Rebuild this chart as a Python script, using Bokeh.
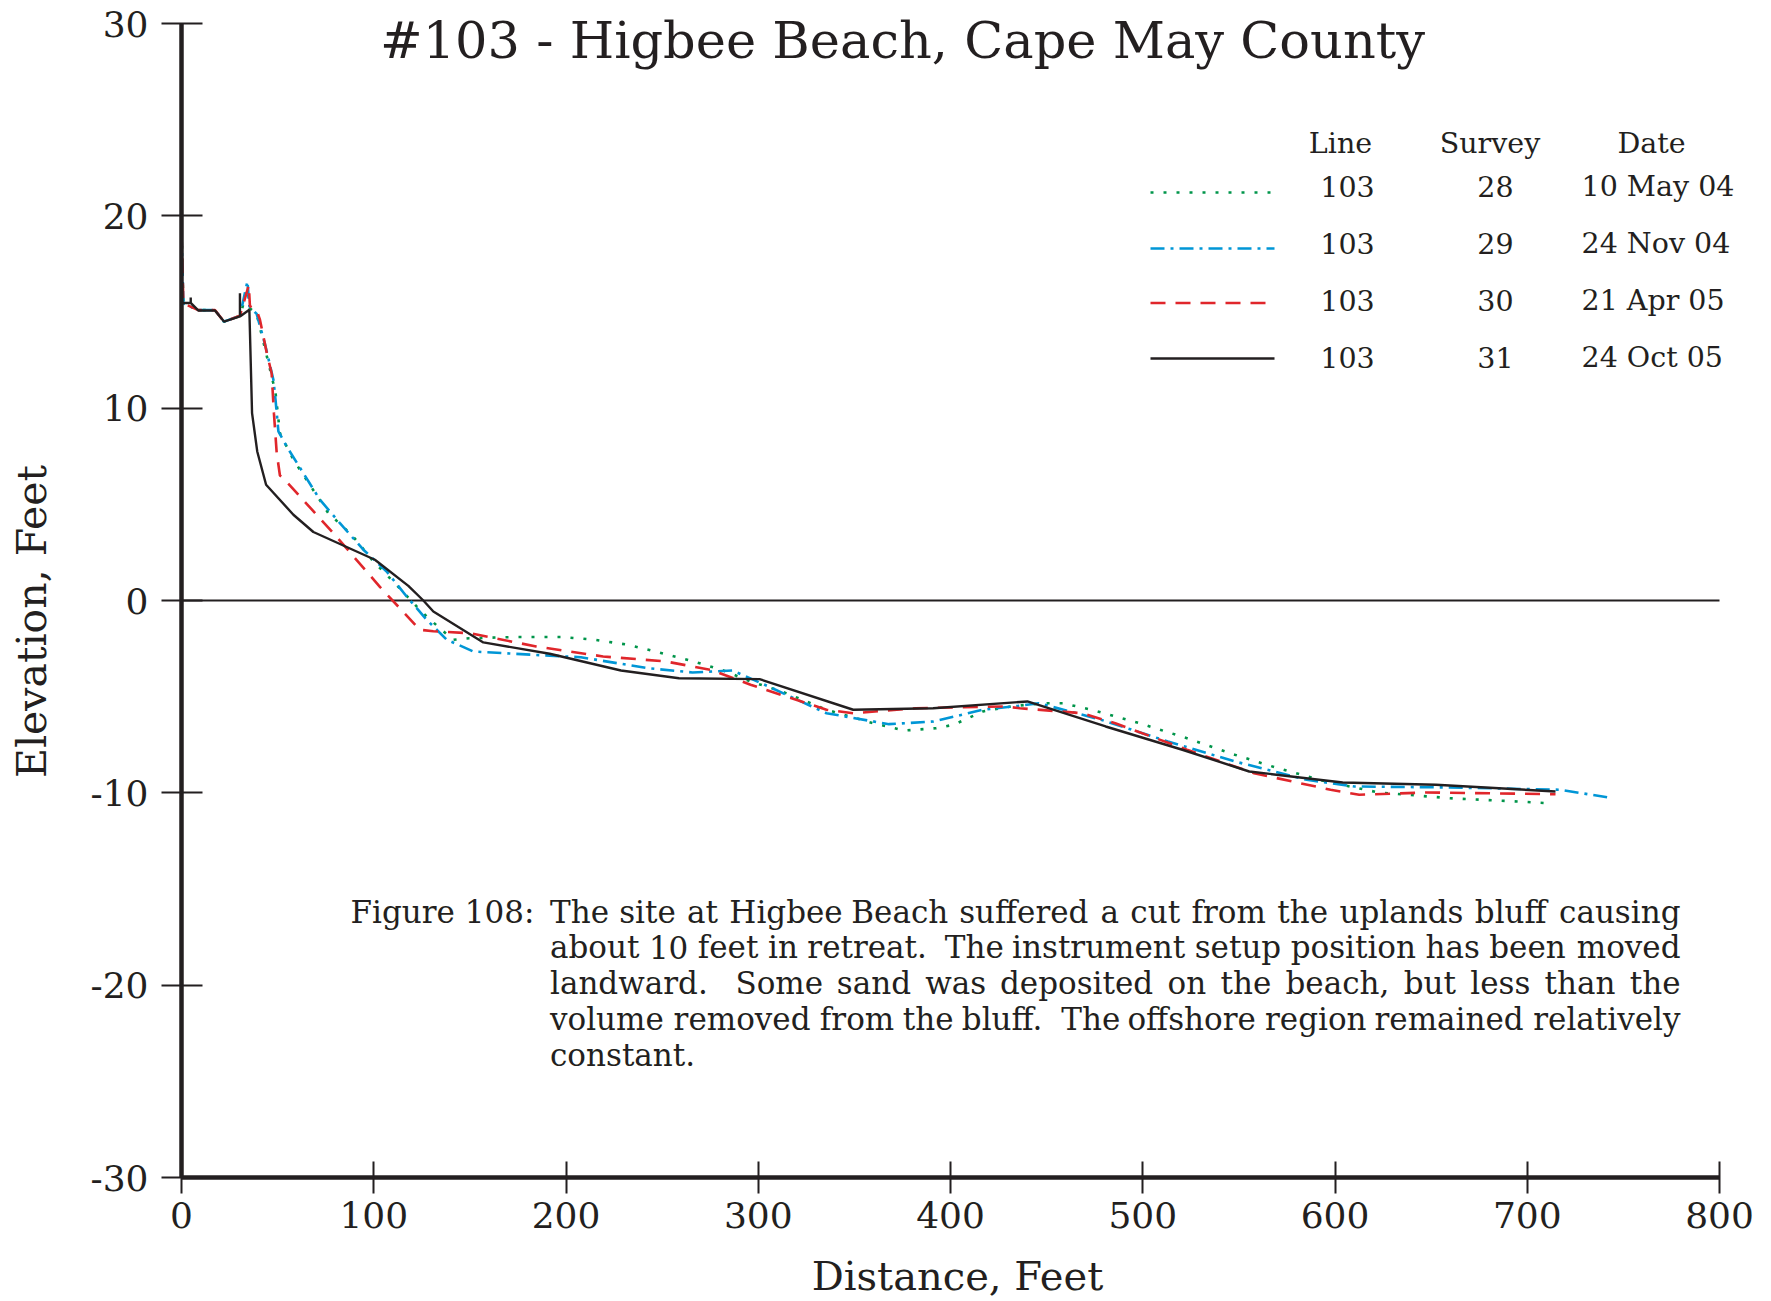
import math
from bokeh.plotting import figure
from bokeh.models import Range1d, FixedTicker, Label
from bokeh.embed import file_html
from bokeh.resources import INLINE

# ---------------- data (distance ft, elevation ft) ----------------
UP_D = [0, 1, 8.7, 17.4, 22.1, 30.4]
UP_V = [19.1, 15.45, 15.1, 15.1, 14.5, 14.8]

D28 = UP_D + [34.5, 35.5, 39.1, 47.5, 48.9, 51.2, 58.2, 76.4, 88.5, 99.8, 111, 122.3,
              127.5, 135.3, 141.4, 149.7, 172.9, 198.4, 214.7, 232.2, 248.4, 264.7,
              280.9, 296, 312.3, 335.5, 359.8, 376.1, 392.4, 401.7, 416.8, 433, 450.4,
              458.4, 473.3, 498.2, 523, 547.9, 570.3, 595.2, 622.6, 659.9, 694.8, 711]
V28 = UP_V + [16.2, 15.2, 14.9, 11.4, 10.8, 8.7, 7.32, 4.54, 3.42, 2.03, 0.9, -0.31,
              -0.83, -1.52, -2.04, -1.96, -1.9, -1.9, -2.04, -2.3, -2.7, -3.12,
              -3.6, -4.21, -4.73, -5.68, -6.38, -6.76, -6.64, -6.46, -5.77, -5.48, -5.34,
              -5.34, -5.68, -6.38, -7.16, -8.02, -8.72, -9.41, -9.98, -10.28, -10.45, -10.54]

D29 = UP_D + [34.3, 35.3, 39.1, 43.5, 47.8, 48.9, 50.4, 54.7, 63.4, 72, 82.4, 94.6,
              106.7, 117.1, 127.5, 138, 151.8, 172.9, 207.7, 242.6, 265.8, 286.7, 305.3,
              335.5, 368, 391.2, 416.8, 435.3, 445.9, 478.3, 513.1, 547.9, 585.3, 610.2,
              659.9, 717.2, 744.6]
V29 = UP_V + [16.6, 15.3, 14.9, 13.3, 11.48, 10.44, 8.79, 8.01, 6.62, 5.24, 4.02, 2.64,
              1.51, 0.21, -1.0, -2.04, -2.65, -2.77, -2.95, -3.52, -3.74, -3.64, -4.47,
              -5.86, -6.43, -6.29, -5.68, -5.48, -5.34, -6.2, -7.33, -8.37, -9.32, -9.67,
              -9.72, -9.84, -10.28]

D30 = UP_D + [35, 35.6, 39.1, 40.8, 44.3, 46.9, 48.1, 49.5, 51.2, 53, 79, 103.3, 124,
              131, 150, 184.5, 219.3, 251.9, 275.1, 296, 335.5, 349.4, 381.9, 428.3, 436,
              468.3, 485.7, 523, 557.9, 597.7, 612.6, 647.5, 714.7]
V30 = UP_V + [16.4, 15.3, 15.1, 14.6, 12.9, 11.8, 9.7, 7.7, 6.5, 6.36, 3.5, 0.7, -1.52,
              -1.6, -1.7, -2.39, -2.91, -3.17, -3.6, -4.38, -5.68, -5.86, -5.6, -5.51, -5.6,
              -5.86, -6.38, -7.76, -8.98, -9.84, -10.1, -9.98, -10.07]

D31 = [0, 4.8, 4.8, 4.8, 8.7, 17.4, 22.1, 30.4, 30.4, 30.4, 35.3, 36.7, 39.4, 44, 58.2,
       68.6, 100.6, 118, 125.8, 131, 157, 191.5, 228.6, 258.8, 300.7, 349.4, 391, 440,
       480.7, 520.6, 555.4, 604, 652.5, 714.7]
V31 = [15.47, 15.47, 15.75, 15.47, 15.08, 15.08, 14.5, 14.77, 15.98, 14.77, 15.12, 9.74,
       7.75, 6.02, 4.46, 3.56, 2.12, 0.76, 0.0, -0.57, -2.18, -2.77, -3.64, -4.04, -4.09,
       -5.68, -5.6, -5.25, -6.55, -7.76, -8.89, -9.46, -9.58, -9.93]

LINES = ["103", "103", "103", "103"]
SURVEYS = ["28", "29", "30", "31"]
DATES = ["10 May 04", "24 Nov 04", "21 Apr 05", "24 Oct 05"]

X_TICKS = [0, 100, 200, 300, 400, 500, 600, 700, 800]
X_TICK_LABELS = ["0", "100", "200", "300", "400", "500", "600", "700", "800"]
Y_TICKS = [-30, -20, -10, 0, 10, 20, 30]
Y_TICK_LABELS = ["-30", "-20", "-10", "0", "10", "20", "30"]

TITLE = "#103 - Higbee Beach, Cape May County"
X_LABEL = "Distance, Feet"
Y_LABEL = "Elevation, Feet"
CAP_HEAD = "Figure 108:"
CAP_LINES = [
    "The site at Higbee Beach suffered a cut from the uplands bluff causing",
    "about 10 feet in retreat.  The instrument setup position has been moved",
    "landward.  Some sand was deposited on the beach, but less than the",
    "volume removed from the bluff.  The offshore region remained relatively",
    "constant.",
]

# ---------------- styling / layout ----------------
INK = "#231f20"
FONT = "DejaVu Serif"
STYLES = [
    dict(color="#00954a", dash="3 10", width=2.6),
    dict(color="#0096d6", dash="14 6 3 6", width=2.6),
    dict(color="#e0262b", dash="15 10", width=2.6),
    dict(color=INK, dash="solid", width=2.4),
]

W, H = 1766, 1301
AX_L, AX_T, AX_W, AX_H = 181, 23, 1538, 1154      # pixel box of the 0..800 x -30..30 axes
XB, YB = (X_TICKS[0], X_TICKS[-1]), (Y_TICKS[0], Y_TICKS[-1])
SX = (XB[1] - XB[0]) / AX_W
SY = (YB[1] - YB[0]) / AX_H


def px_x(X):  # picture pixel -> data
    return XB[0] + (X - AX_L) * SX


def px_y(Y):
    return YB[1] - (Y - AX_T) * SY


def text_label(x, y, text, size, align="left", angle=0.0):
    return Label(x=px_x(x), y=px_y(y), text=text, text_align=align,
                 text_baseline="middle", text_font=FONT, text_font_size=size,
                 text_color=INK, angle=angle)


# approximate DejaVu Serif advance widths (units per em = 2048), used to justify the caption
CW = dict(zip("abcdefghijklmnopqrstuvwxyz",
              [1221, 1311, 1149, 1311, 1214, 764, 1311, 1320, 655, 621, 1247, 655, 1975,
               1320, 1237, 1311, 1311, 948, 1049, 819, 1320, 1212, 1722, 1212, 1212, 1106]))
CW.update({" ": 651, ".": 651, ",": 651, "T": 1284, "H": 1600, "B": 1468, "S": 1327})
CW.update({d: 1303 for d in "0123456789"})


def text_w(s, size_px):
    return sum(CW.get(ch, 1250) for ch in s) * size_px / 2048.0


p = figure(frame_width=W, frame_height=H,
           min_border_left=0, min_border_right=0, min_border_top=0, min_border_bottom=0,
           x_range=Range1d(px_x(0), px_x(W)), y_range=Range1d(px_y(H), px_y(0)),
           output_backend="svg", toolbar_location=None, tools="")
p.grid.visible = False
p.outline_line_color = None
p.background_fill_color = "white"
p.border_fill_color = "white"

for ax in (p.xaxis[0], p.yaxis[0]):
    ax.axis_line_color = INK
    ax.axis_line_width = 4.5
    ax.major_tick_line_color = INK
    ax.major_tick_line_width = 2
    ax.minor_tick_line_color = None
    ax.major_label_text_font = FONT
    ax.major_label_text_font_size = "36px"
    ax.major_label_text_color = INK

p.xaxis.fixed_location = YB[0]
p.xaxis.bounds = XB
p.xaxis.ticker = FixedTicker(ticks=X_TICKS)
p.xaxis.major_label_overrides = dict(zip(X_TICKS, X_TICK_LABELS))
p.xaxis.major_tick_in = 16
p.xaxis.major_tick_out = 16
p.xaxis.major_label_standoff = 8

p.yaxis.fixed_location = XB[0]
p.yaxis.bounds = YB
p.yaxis.ticker = FixedTicker(ticks=Y_TICKS)
p.yaxis.major_label_overrides = dict(zip(Y_TICKS, Y_TICK_LABELS))
p.yaxis.major_tick_in = 21
p.yaxis.major_tick_out = 20
p.yaxis.major_label_standoff = 13
p.yaxis.major_label_orientation = "horizontal"

# axis titles
p.add_layout(text_label(957, 1275, X_LABEL, "40px", align="center"))
p.add_layout(text_label(31, 621, Y_LABEL, "41px", align="center", angle=math.pi / 2))

# zero reference line across the axis extent
p.line(list(XB), [0, 0], line_color=INK, line_width=2)

series = [(D28, V28), (D29, V29), (D30, V30), (D31, V31)]
for (d, v), st in zip(series, STYLES):
    p.line(d, v, line_color=st["color"], line_width=st["width"], line_dash=st["dash"])

# title
p.add_layout(text_label(902, 40, TITLE, "51px", align="center"))

# legend (table style)
LEG_FS = "28.5px"
for txt, cx in zip(["Line", "Survey", "Date"], [1340, 1489.5, 1651]):
    p.add_layout(text_label(cx, 142.5, txt, LEG_FS, align="center"))
ROW_Y = [186, 243, 300, 357]
SAMPLE_Y = [192, 248, 302.5, 358]
for i in range(4):
    st = STYLES[i]
    p.line([px_x(1150), px_x(1274)], [px_y(SAMPLE_Y[i])] * 2, line_color=st["color"],
           line_width=st["width"], line_dash=st["dash"])
    p.add_layout(text_label(1347, ROW_Y[i], LINES[i], LEG_FS, align="center"))
    p.add_layout(text_label(1495, ROW_Y[i], SURVEYS[i], LEG_FS, align="center"))
    p.add_layout(text_label(1581, ROW_Y[i], DATES[i], LEG_FS, align="left"))

# caption: fully justified between two margins (last line flush left)
CAP_PX = 31
CAP_FS = f"{CAP_PX}px"
CAP_MID, CAP_STEP = 911, 35.9
CAP_L, CAP_R = 549.5, 1680
p.add_layout(text_label(350, CAP_MID, CAP_HEAD, CAP_FS))
for i, line in enumerate(CAP_LINES):
    y = CAP_MID + i * CAP_STEP
    if i == len(CAP_LINES) - 1:
        p.add_layout(text_label(CAP_L, y, line, CAP_FS))
        continue
    words = line.split()
    widths = [text_w(w, CAP_PX) for w in words]
    weights = [2.0 if words[k - 1].endswith(".") else 1.0 for k in range(1, len(words))]
    unit = (CAP_R - CAP_L - sum(widths)) / sum(weights)
    x = CAP_L
    for k, w in enumerate(words):
        if k == len(words) - 1:
            p.add_layout(text_label(CAP_R, y, w, CAP_FS, align="right"))
        else:
            p.add_layout(text_label(x, y, w, CAP_FS))
            x += widths[k] + unit * weights[k]

open("out.html", "w").write(file_html(p, INLINE))
